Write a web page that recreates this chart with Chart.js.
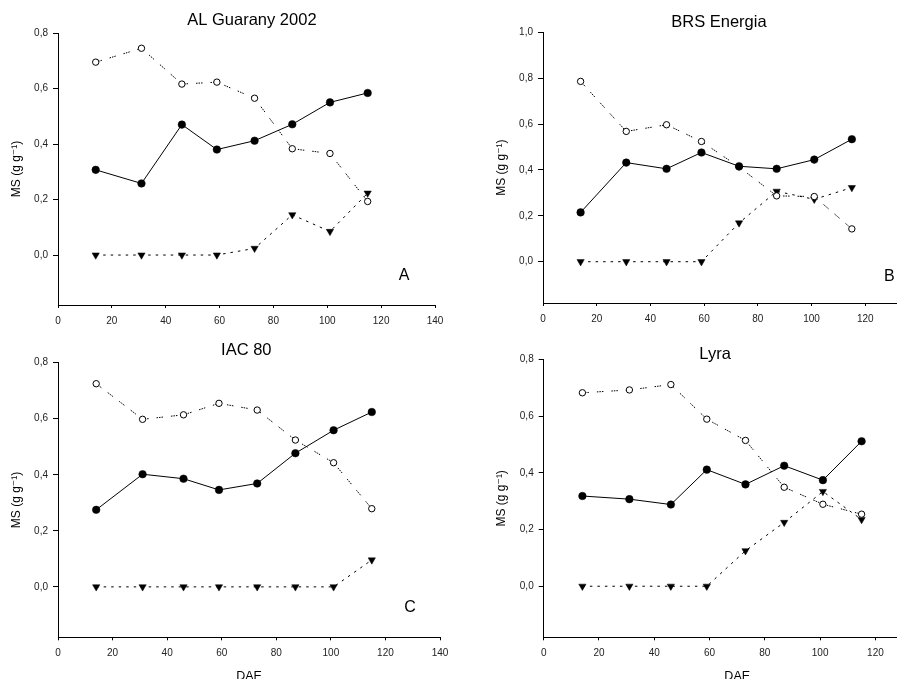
<!DOCTYPE html>
<html>
<head>
<meta charset="utf-8">
<script src="https://cdn.jsdelivr.net/npm/chart.js@4.4.1/dist/chart.umd.min.js"></script>
<style>
  html, body { margin: 0; padding: 0; background: #fff; }
  body { width: 897px; height: 679px; overflow: hidden; position: relative; }
  .painel { position: absolute; }
</style>
</head>
<body>
<div class="painel" style="left:0px;top:0px"><canvas id="cA" width="470" height="330"></canvas></div>
<div class="painel" style="left:447px;top:0px"><canvas id="cB" width="510" height="330"></canvas></div>
<div class="painel" style="left:0px;top:330px"><canvas id="cC" width="470" height="360"></canvas></div>
<div class="painel" style="left:447px;top:330px"><canvas id="cD" width="510" height="360"></canvas></div>
<script>
// dias apos a emergencia (DAE)
var dae = [14, 31, 46, 59, 73, 87, 101, 115];
var xTicks = [0, 20, 40, 60, 80, 100, 120, 140];
var yTicks = [0, 0.2, 0.4, 0.6, 0.8];
var yTicksB = [0, 0.2, 0.4, 0.6, 0.8, 1.0];

// AL Guarany 2002
var guaranyFechado = [0.307, 0.258, 0.470, 0.380, 0.412, 0.471, 0.550, 0.584];
var guaranyAberto  = [0.695, 0.745, 0.616, 0.623, 0.565, 0.383, 0.366, 0.193];
var guaranyTriang  = [0, 0, 0, 0, 0.024, 0.145, 0.085, 0.223];
// BRS Energia
var energiaFechado = [0.215, 0.432, 0.405, 0.476, 0.416, 0.405, 0.445, 0.534];
var energiaAberto  = [0.786, 0.568, 0.597, 0.524, 0.413, 0.287, 0.284, 0.143];
var energiaTriang  = [0, 0, 0, 0, 0.169, 0.307, 0.272, 0.323];
// IAC 80
var iacFechado = [0.275, 0.402, 0.386, 0.346, 0.369, 0.477, 0.559, 0.624];
var iacAberto  = [0.725, 0.598, 0.614, 0.655, 0.631, 0.524, 0.443, 0.279];
var iacTriang  = [0, 0, 0, 0, 0, 0, 0, 0.096];
// Lyra
var lyraFechado = [0.318, 0.307, 0.288, 0.411, 0.359, 0.425, 0.374, 0.511];
var lyraAberto  = [0.682, 0.692, 0.711, 0.589, 0.514, 0.349, 0.289, 0.254];
var lyraTriang  = [0, 0, 0, 0, 0.125, 0.225, 0.334, 0.235];

var fonte = 'Arial, "Liberation Sans", "DejaVu Sans", sans-serif';

function pontos(vals){
    var r = [];
    for(var i=0;i<dae.length;i++){ r.push({x: dae[i], y: vals[i]}); }
    return r;
}

// escreve o titulo e a letra do painel
var textoPainel = {
    id: 'textoPainel',
    afterDraw: function(chart){
        var o = chart.options.plugins.textoPainel;
        var ctx = chart.ctx;
        var sx = chart.scales.x, sy = chart.scales.y;
        ctx.save();
        ctx.fillStyle = '#000';
        ctx.textAlign = 'center';
        ctx.textBaseline = 'middle';
        ctx.font = '16.5px ' + fonte;
        ctx.fillText(o.titulo, sx.getPixelForValue(o.tituloX), o.tituloY);
        ctx.font = '16px ' + fonte;
        ctx.fillText(o.letra, sx.getPixelForValue(o.letraX), sy.getPixelForValue(o.letraY));
        ctx.restore();
    }
};

function geraPainel(id, fechado, aberto, triang, p){
    var ticksY = p.ticksY;
    new Chart(document.getElementById(id), {
        type: 'line',
        data: {
            datasets: [{
                data: pontos(fechado),
                borderColor: '#000', borderWidth: 1,
                pointBackgroundColor: '#000', pointBorderColor: '#000',
                pointRadius: 3.8, pointBorderWidth: 0.5
            }, {
                data: pontos(aberto),
                borderColor: '#000', borderWidth: 1,
                borderDash: [1.5, 1, 1.5, 1, 1.5, 8],
                pointBackgroundColor: '#fff', pointBorderColor: '#000',
                pointRadius: 3.2, pointBorderWidth: 1
            }, {
                data: pontos(triang),
                borderColor: '#000', borderWidth: 1,
                borderDash: [2.5, 5],
                pointStyle: 'triangle', rotation: 180,
                pointBackgroundColor: '#000', pointBorderColor: '#000',
                pointRadius: 4.2, pointBorderWidth: 0.5
            }]
        },
        options: {
            responsive: false,
            animation: false,
            devicePixelRatio: 1,
            layout: { padding: { top: p.top, right: p.right, bottom: 0, left: 0 } },
            plugins: {
                legend: { display: false },
                tooltip: { enabled: false },
                textoPainel: p.texto
            },
            scales: {
                x: {
                    type: 'linear', min: 0, max: 140,
                    afterBuildTicks: function(s){ s.ticks = xTicks.map(function(v){ return {value: v}; }); },
                    afterFit: function(s){ s.height = p.alturaX; },
                    grid: { drawOnChartArea: false, drawTicks: true, tickLength: 3, color: '#000' },
                    border: { display: true, color: '#000', width: 1 },
                    ticks: { color: '#222', padding: 7, maxRotation: 0, autoSkip: false,
                             font: { size: 10, family: fonte } },
                    title: { display: p.dae, text: 'DAE', color: '#000',
                             font: { size: 12.5, family: fonte }, padding: { top: 0, bottom: 5.5 } }
                },
                y: {
                    type: 'linear', min: -0.18, max: ticksY[ticksY.length-1],
                    afterBuildTicks: function(s){ s.ticks = ticksY.map(function(v){ return {value: v}; }); },
                    afterFit: function(s){ s.width = p.left; },
                    grid: { drawOnChartArea: false, drawTicks: true, tickLength: 5, color: '#000' },
                    border: { display: true, color: '#000', width: 1 },
                    ticks: { color: '#222', padding: 5, autoSkip: false,
                             font: { size: 10, family: fonte },
                             callback: function(v){ return v.toFixed(1).replace('.', ','); } },
                    title: { display: true, text: 'MS (g g\u207B\u00B9)', color: '#000',
                             font: { size: 12, family: fonte }, padding: { top: p.padTituloY, bottom: 0 } }
                }
            }
        },
        plugins: [textoPainel]
    });
}

geraPainel('cA', guaranyFechado, guaranyAberto, guaranyTriang, {
    ticksY: yTicks, top: 33, right: 35, left: 58, alturaX: 25, dae: false, padTituloY: 9.5,
    texto: { titulo: 'AL Guarany 2002', tituloX: 72, tituloY: 20, letra: 'A', letraX: 128.5, letraY: -0.075 }
});
geraPainel('cB', energiaFechado, energiaAberto, energiaTriang, {
    ticksY: yTicksB, top: 32.3, right: 38, left: 96, alturaX: 27, dae: false, padTituloY: 47.8,
    texto: { titulo: 'BRS Energia', tituloX: 65.5, tituloY: 22.5, letra: 'B', letraX: 129, letraY: -0.066 }
});
geraPainel('cC', iacFechado, iacAberto, iacTriang, {
    ticksY: yTicks, top: 32.7, right: 30, left: 58, alturaX: 52.7, dae: true, padTituloY: 9.5,
    texto: { titulo: 'IAC 80', tituloX: 69, tituloY: 20, letra: 'C', letraX: 129, letraY: -0.075 }
});
geraPainel('cD', lyraFechado, lyraAberto, lyraTriang, {
    ticksY: yTicks, top: 29.3, right: 26.3, left: 96.7, alturaX: 52.7, dae: true, padTituloY: 47.8,
    texto: { titulo: 'Lyra', tituloX: 62, tituloY: 24, letra: 'D', letraX: 129.5, letraY: -0.075 }
});
</script>
</body>
</html>
